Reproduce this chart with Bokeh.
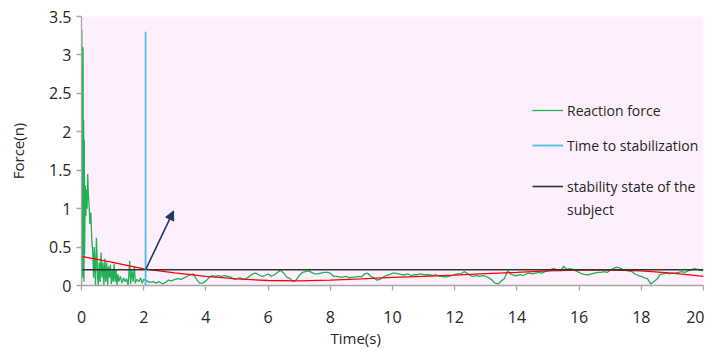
from bokeh.plotting import figure
from bokeh.models import (Range1d, FixedTicker, CustomJSTickFormatter, Legend, LegendItem,
                          Title, Arrow, NormalHead)
from bokeh.embed import file_html
from bokeh.resources import INLINE

# ---------------- data ----------------
# early (impact) part of the reaction force
early_t = [0.00, 0.01, 0.02, 0.03, 0.04, 0.05, 0.06, 0.07, 0.08, 0.09, 0.10, 0.12, 0.14, 0.16,
           0.18, 0.20, 0.22, 0.25, 0.27, 0.30, 0.33, 0.36, 0.39, 0.41, 0.43, 0.45, 0.48, 0.50,
           0.52, 0.54, 0.57, 0.60, 0.63, 0.66, 0.69, 0.72, 0.75, 0.78, 0.81, 0.84, 0.87, 0.90,
           0.93, 0.96, 0.99, 1.02, 1.05, 1.08, 1.11, 1.14, 1.17, 1.20, 1.25, 1.30, 1.35, 1.40,
           1.45, 1.50, 1.55, 1.58, 1.62, 1.66, 1.70, 1.73, 1.78, 1.85, 1.90, 1.95, 2.00]
early_f = [0.00, 3.32, 0.20, 2.65, 0.10, 3.10, 0.30, 2.15, 0.05, 1.90, 0.40, 1.30, 0.90, 1.25,
           1.00, 1.45, 1.20, 1.00, 0.80, 0.95, 0.60, 0.45, 0.10, 0.50, 0.30, 0.00, 0.62, 0.35,
           0.10, 0.00, 0.30, 0.05, 0.43, 0.10, 0.30, 0.00, 0.35, 0.05, 0.30, 0.00, 0.25, 0.10,
           0.27, 0.02, 0.20, 0.05, 0.28, 0.05, 0.20, 0.00, 0.15, 0.05, 0.12, 0.03, 0.10, 0.05,
           0.09, 0.00, 0.32, 0.02, 0.20, 0.05, 0.25, 0.03, 0.08, 0.05, 0.10, 0.03, 0.08]
# later part, sampled every 0.1 s from 2.1 s to 20 s
tail_start = 2.1
tail_step = 0.1
tail_f = [0.06, 0.04, 0.05, 0.03, 0.05, 0.02, 0.04, 0.07, 0.06, 0.08,
          0.09, 0.08, 0.10, 0.12, 0.14, 0.15, 0.08, 0.03, 0.03, 0.06,
          0.10, 0.13, 0.12, 0.13, 0.12, 0.13, 0.12, 0.11, 0.08, 0.09,
          0.10, 0.08, 0.09, 0.12, 0.15, 0.16, 0.14, 0.12, 0.13, 0.15,
          0.12, 0.14, 0.17, 0.20, 0.16, 0.11, 0.09, 0.05, 0.07, 0.13,
          0.17, 0.18, 0.19, 0.17, 0.15, 0.15, 0.16, 0.17, 0.17, 0.16,
          0.12, 0.12, 0.11, 0.11, 0.12, 0.10, 0.11, 0.11, 0.12, 0.11,
          0.15, 0.16, 0.12, 0.10, 0.07, 0.08, 0.11, 0.13, 0.14, 0.16,
          0.16, 0.15, 0.14, 0.14, 0.15, 0.13, 0.14, 0.14, 0.15, 0.14,
          0.14, 0.14, 0.13, 0.14, 0.12, 0.12, 0.11, 0.12, 0.13, 0.14,
          0.15, 0.15, 0.18, 0.16, 0.13, 0.12, 0.13, 0.12, 0.13, 0.12,
          0.10, 0.07, 0.03, 0.02, 0.06, 0.09, 0.19, 0.15, 0.13, 0.13,
          0.14, 0.13, 0.15, 0.16, 0.15, 0.16, 0.17, 0.16, 0.18, 0.19,
          0.21, 0.22, 0.20, 0.19, 0.25, 0.21, 0.22, 0.21, 0.19, 0.17,
          0.15, 0.14, 0.14, 0.15, 0.16, 0.17, 0.17, 0.18, 0.17, 0.20,
          0.22, 0.24, 0.23, 0.21, 0.20, 0.19, 0.18, 0.15, 0.13, 0.12,
          0.10, 0.09, 0.02, 0.05, 0.08, 0.14, 0.15, 0.16, 0.15, 0.16,
          0.16, 0.17, 0.18, 0.17, 0.19, 0.20, 0.22, 0.21, 0.20, 0.19]

# red trend curve
trend_t = [0, 1, 2, 3, 4, 5, 6, 7, 8, 9, 10, 11, 12, 13, 14, 15, 16, 17, 18, 19, 20]
trend_f = [0.38, 0.30, 0.215, 0.165, 0.12, 0.085, 0.065, 0.06, 0.07, 0.085, 0.105, 0.12,
           0.135, 0.155, 0.17, 0.19, 0.20, 0.20, 0.19, 0.16, 0.12]

stabilization_time = 2.06      # s
stabilization_top = 3.3        # N (height of the marker line)
stability_level = 0.205        # N
arrow_from = (2.06, 0.205)
arrow_to = (2.96, 0.97)

x_ticks = [0, 2, 4, 6, 8, 10, 12, 14, 16, 18, 20]
y_ticks = [0, 0.5, 1, 1.5, 2, 2.5, 3, 3.5]

# ---------------- plot ----------------
tail_t = [round(tail_start + tail_step * i, 2) for i in range(len(tail_f))]
force_t = early_t + tail_t
force_f = early_f + tail_f

FONT = "Open Sans"
TXT = "#262626"

p = figure(frame_width=622, frame_height=269, min_border_left=81, min_border_right=1,
           min_border_top=16, min_border_bottom=57,
           x_range=Range1d(0, 20), y_range=Range1d(0, 3.5),
           output_backend="svg", toolbar_location=None)
p.background_fill_color = "#fdf0fc"
p.border_fill_color = "white"
p.outline_line_color = None
p.grid.visible = False

green = p.line(force_t, force_f, line_color="#1fb155", line_width=1.3)
p.line(trend_t, trend_f, line_color="#ff0000", line_width=1.3)
black = p.line([0, 20], [stability_level, stability_level], line_color="#333333", line_width=1.6)
blue = p.line([stabilization_time, stabilization_time], [0, stabilization_top],
              line_color="#55b9ea", line_width=1.8)
dummy = p.line([], [], line_alpha=0)

p.add_layout(Arrow(end=NormalHead(size=9, fill_color="#203864", line_color="#203864"),
                   x_start=arrow_from[0], y_start=arrow_from[1],
                   x_end=arrow_to[0], y_end=arrow_to[1],
                   line_color="#203864", line_width=1.6))

for ax in (p.xaxis[0], p.yaxis[0]):
    ax.axis_line_color = "#a6a6a6"
    ax.axis_line_width = 1.3
    ax.major_tick_line_color = "#a6a6a6"
    ax.major_tick_line_width = 1.3
    ax.major_tick_out = 5
    ax.major_tick_in = 0
    ax.minor_tick_line_color = None
    ax.major_label_text_font = FONT
    ax.major_label_text_font_size = "16px"
    ax.major_label_text_color = TXT

p.xaxis.ticker = FixedTicker(ticks=x_ticks)
p.yaxis.ticker = FixedTicker(ticks=y_ticks)
p.yaxis.formatter = CustomJSTickFormatter(code="return tick.toString();")
p.xaxis.major_label_standoff = 20
p.yaxis.major_label_standoff = 5

p.yaxis.axis_label = "Force(n)"
p.yaxis.axis_label_text_font = FONT
p.yaxis.axis_label_text_font_size = "15px"
p.yaxis.axis_label_text_font_style = "normal"
p.yaxis.axis_label_text_color = TXT
p.yaxis.axis_label_standoff = 18

p.add_layout(Title(text="Time(s)", align="left", offset=249, standoff=0,
                   text_font=FONT, text_font_size="15px", text_font_style="normal",
                   text_color=TXT), "below")

def add_legend(label, renderer, center_y):
    lg = Legend(items=[LegendItem(label=label, renderers=[renderer])],
                location=(451, 285 - center_y - 10), orientation="vertical",
                padding=0, margin=0, spacing=0, border_line_color=None,
                background_fill_alpha=0, glyph_width=31, glyph_height=20,
                label_height=20, label_standoff=4,
                label_text_font=FONT, label_text_font_size="14px",
                label_text_color=TXT, label_text_baseline="middle")
    p.add_layout(lg, "center")

add_legend("Reaction force", green, 110)
add_legend("Time to stabilization", blue, 145)
add_legend("stability state of the", black, 186)
add_legend("subject", dummy, 209)

open("out.html", "w").write(file_html(p, INLINE))
